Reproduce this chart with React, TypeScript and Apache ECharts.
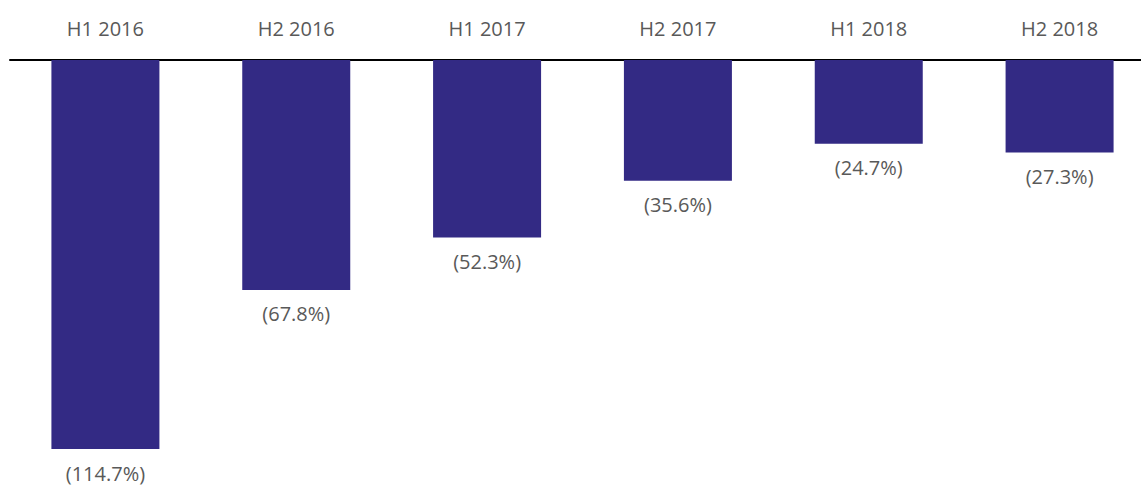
import React, { useEffect, useRef } from "react";
import * as echarts from "echarts";

const categories = ["H1 2016", "H2 2016", "H1 2017", "H2 2017", "H1 2018", "H2 2018"];
const values = [-114.7, -67.8, -52.3, -35.6, -24.7, -27.3];

export default function App() {
  const ref = useRef<HTMLDivElement>(null);
  useEffect(() => {
    document.body.style.margin = "0";
    const chart = echarts.init(ref.current!, undefined, { renderer: "svg" });
    chart.setOption({
      animation: false,
      grid: { left: 10, top: 60, width: 1145, height: 407 },
      xAxis: {
        type: "category",
        data: categories,
        position: "top",
        axisLine: { onZero: false, lineStyle: { color: "#000", width: 2 } },
        axisTick: { show: false },
        axisLabel: { color: "#595959", fontSize: 20, fontFamily: "Open Sans", margin: 22 },
      },
      yAxis: {
        type: "value",
        min: -120,
        max: 0,
        show: false,
        splitLine: { show: false },
      },
      series: [
        {
          type: "bar",
          data: values,
          barWidth: 108,
          itemStyle: { color: "#332a84" },
          label: {
            show: true,
            position: "bottom",
            distance: 15,
            lineHeight: 18,
            color: "#595959",
            fontSize: 20,
            fontFamily: "Open Sans",
            formatter: (p: any) => "(" + Math.abs(p.value).toFixed(1) + "%)",
          },
        },
      ],
    });
    return () => chart.dispose();
  }, []);
  return (
    <div style={{ width: 1141, height: 486, overflow: "hidden" }}>
      <div ref={ref} style={{ width: 1170, height: 486 }} />
    </div>
  );
}
